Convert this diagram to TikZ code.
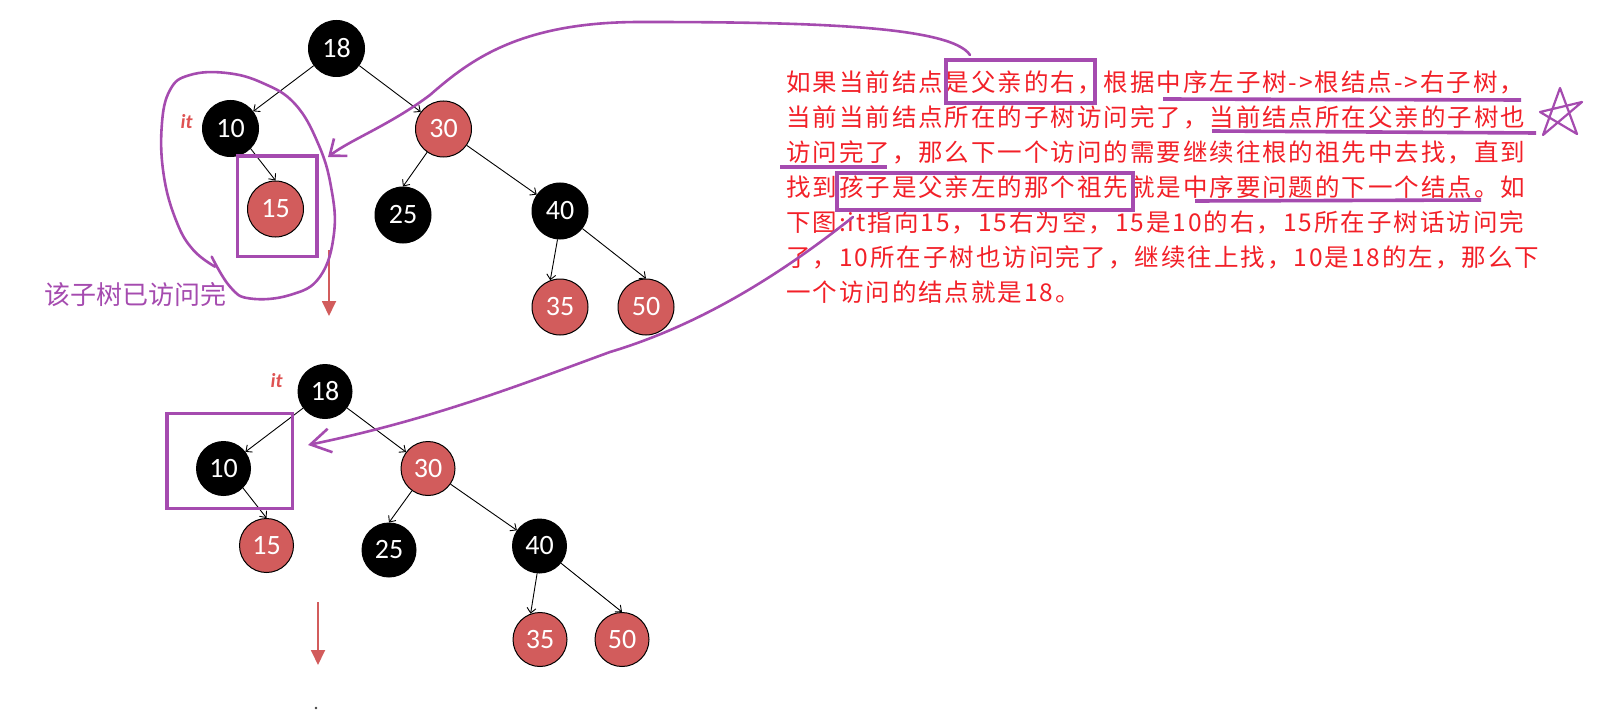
\documentclass[tikz,border=0pt]{standalone}
\usepackage{fontspec}
\usepackage{tikz}
\usetikzlibrary{arrows.meta,positioning}
\newfontfamily\cjkfont[LetterSpace=8]{Noto Sans CJK SC}
\newfontfamily\cjkplain{Noto Sans CJK SC}
\newfontfamily\keyfont{Carlito}
\definecolor{NodeRed}{RGB}{210,92,92}
\definecolor{NoteRed}{RGB}{242,32,40}
\definecolor{MarkPurple}{RGB}{165,75,175}
\definecolor{ItRed}{RGB}{222,82,82}

\begin{document}
\begin{tikzpicture}[x=1pt,y=-1pt,
    key/.style={circle, minimum size=56pt, inner sep=0pt, line width=1pt, text=white,
      font=\keyfont\fontsize{28}{28}\selectfont},
    blk/.style={key, fill=black, draw=black},
    rnode/.style={key, fill=NodeRed, draw=black},
    link/.style={-{Straight Barb[length=5pt,width=9pt]}, line width=0.9pt},
    pen/.style={draw=MarkPurple, line width=2.6pt, line cap=round, line join=round},
    boxpen/.style={draw=MarkPurple, line width=3.6pt},
    downarrow/.style={-{Triangle[length=15pt,width=14pt]}, draw=NodeRed, fill=NodeRed, line width=1.8pt},
    note/.style={text=NoteRed, font=\cjkfont\fontsize{24.5}{35}\selectfont, inner sep=0pt, anchor=base west},
    itlabel/.style={text=ItRed, font=\keyfont\bfseries\itshape\fontsize{20}{20}\selectfont, inner sep=0pt}]
  \useasboundingbox (0,0) rectangle (1602,722);

  % upper tree
  \node[blk]   (a18) at (336.5,48.5) {18};
  \node[blk]   (a10) at (230.5,128.5) {10};
  \node[rnode] (a15) at (275.5,209) {15};
  \node[rnode] (a30) at (443.5,129) {30};
  \node[blk]   (a25) at (403,215) {25};
  \node[blk]   (a40) at (560,211) {40};
  \node[rnode] (a35) at (560,307) {35};
  \node[rnode] (a50) at (646,307) {50};
  \node[itlabel] (ita) at (186.5,121.5) {it};

  % lower tree
  \begin{scope}[key/.append style={minimum size=54pt}]
    \node[blk]   (b18) at (325,391.5) {18};
    \node[blk]   (b10) at (223.5,468.5) {10};
    \node[rnode] (b15) at (266.5,545.5) {15};
    \node[rnode] (b30) at (428,468.5) {30};
    \node[blk]   (b25) at (389,550) {25};
    \node[blk]   (b40) at (539.5,546) {40};
    \node[rnode] (b35) at (540,639.5) {35};
    \node[rnode] (b50) at (622,639.5) {50};
  \end{scope}
  \node[itlabel] (itb) at (276.5,380.5) {it};

  \foreach \t in {a,b} {
    \draw[link] (\t18) -- (\t10);
    \draw[link] (\t18) -- (\t30);
    \draw[link] (\t10.-45) -- (\t15.north);
    \draw[link] (\t30) -- (\t25.north);
    \draw[link] (\t30) -- (\t40);
    \draw[link] (\t40.-95) -- (\t35.110);
    \draw[link] (\t40) -- (\t50.north);
  }

  \coordinate (downA1) at (329,250);
  \coordinate (downA2) at (329,316);
  \coordinate (downB1) at (318,602);
  \coordinate (downB2) at (318,665);
  \draw[downarrow] (downA1) -- (downA2);
  \draw[downarrow] (downB1) -- (downB2);
  \fill[black!75] (316,708) circle (1.3);

  % notes
  \foreach \txt [count=\i] in {
      如果当前结点是父亲的右，根据中序左子树->根结点->右子树，,
      当前当前结点所在的子树访问完了，当前结点所在父亲的子树也,
      访问完了，那么下一个访问的需要继续往根的祖先中去找，直到,
      找到孩子是父亲左的那个祖先就是中序要问题的下一个结点。如,
      下图:it指向15，15右为空，15是10的右，15所在子树话访问完,
      了，10所在子树也访问完了，继续往上找，10是18的左，那么下,
      一个访问的结点就是18。}
    \node[note] (line\i) at (786,{56.5+35*\i}) {\txt};

  \node[text=MarkPurple, font=\cjkplain\fontsize{26}{26}\selectfont, inner sep=0pt, anchor=west]
    (done) at (44,295) {该子树已访问完};

  % marks
  \draw[boxpen] (237.5,156) rectangle (317,256.5);
  \draw[boxpen] (167,413.5) rectangle (292.5,508.5);
  \draw[boxpen] (946,60) rectangle (1095,103);
  \draw[boxpen] (837,173) rectangle (1133,210);
  \draw[boxpen] (1163,99) -- (1521,100);
  \draw[boxpen] (1212,131) -- (1536,133);
  \draw[boxpen] (780,167) -- (887,167);
  \draw[boxpen] (1195,201) -- (1481,200);
  \draw[pen, line width=2.2pt] (1560,88) -- (1543,135) -- (1582,102) -- (1540,112) -- (1577,134) -- cycle;

  \draw[pen] plot[smooth, tension=0.7] coordinates {(211.7,256.7) (230,286.7) (250,298.5) (290,295)
    (320,276.7) (334,233.3) (331,186.7) (318,143.3) (295,104) (263.3,83.3) (226.7,73) (190,75)
    (170,90) (161.7,126.7) (164,176.7) (176.7,222) (193.3,250) (215,266.7)};

  \draw[pen, -{Straight Barb[length=14pt,width=22pt]}] (970,55) .. controls (950,25) and (800,22) .. (640,22)
    .. controls (520,22) and (470,60) .. (430,95) .. controls (390,125) and (350,140) .. (328,157);
  \draw[pen, -{Straight Barb[length=20pt,width=24pt]}] (853,217) .. controls (780,275) and (700,325) .. (610,352)
    .. controls (520,385) and (430,420) .. (308,445);
\end{tikzpicture}
\end{document}
